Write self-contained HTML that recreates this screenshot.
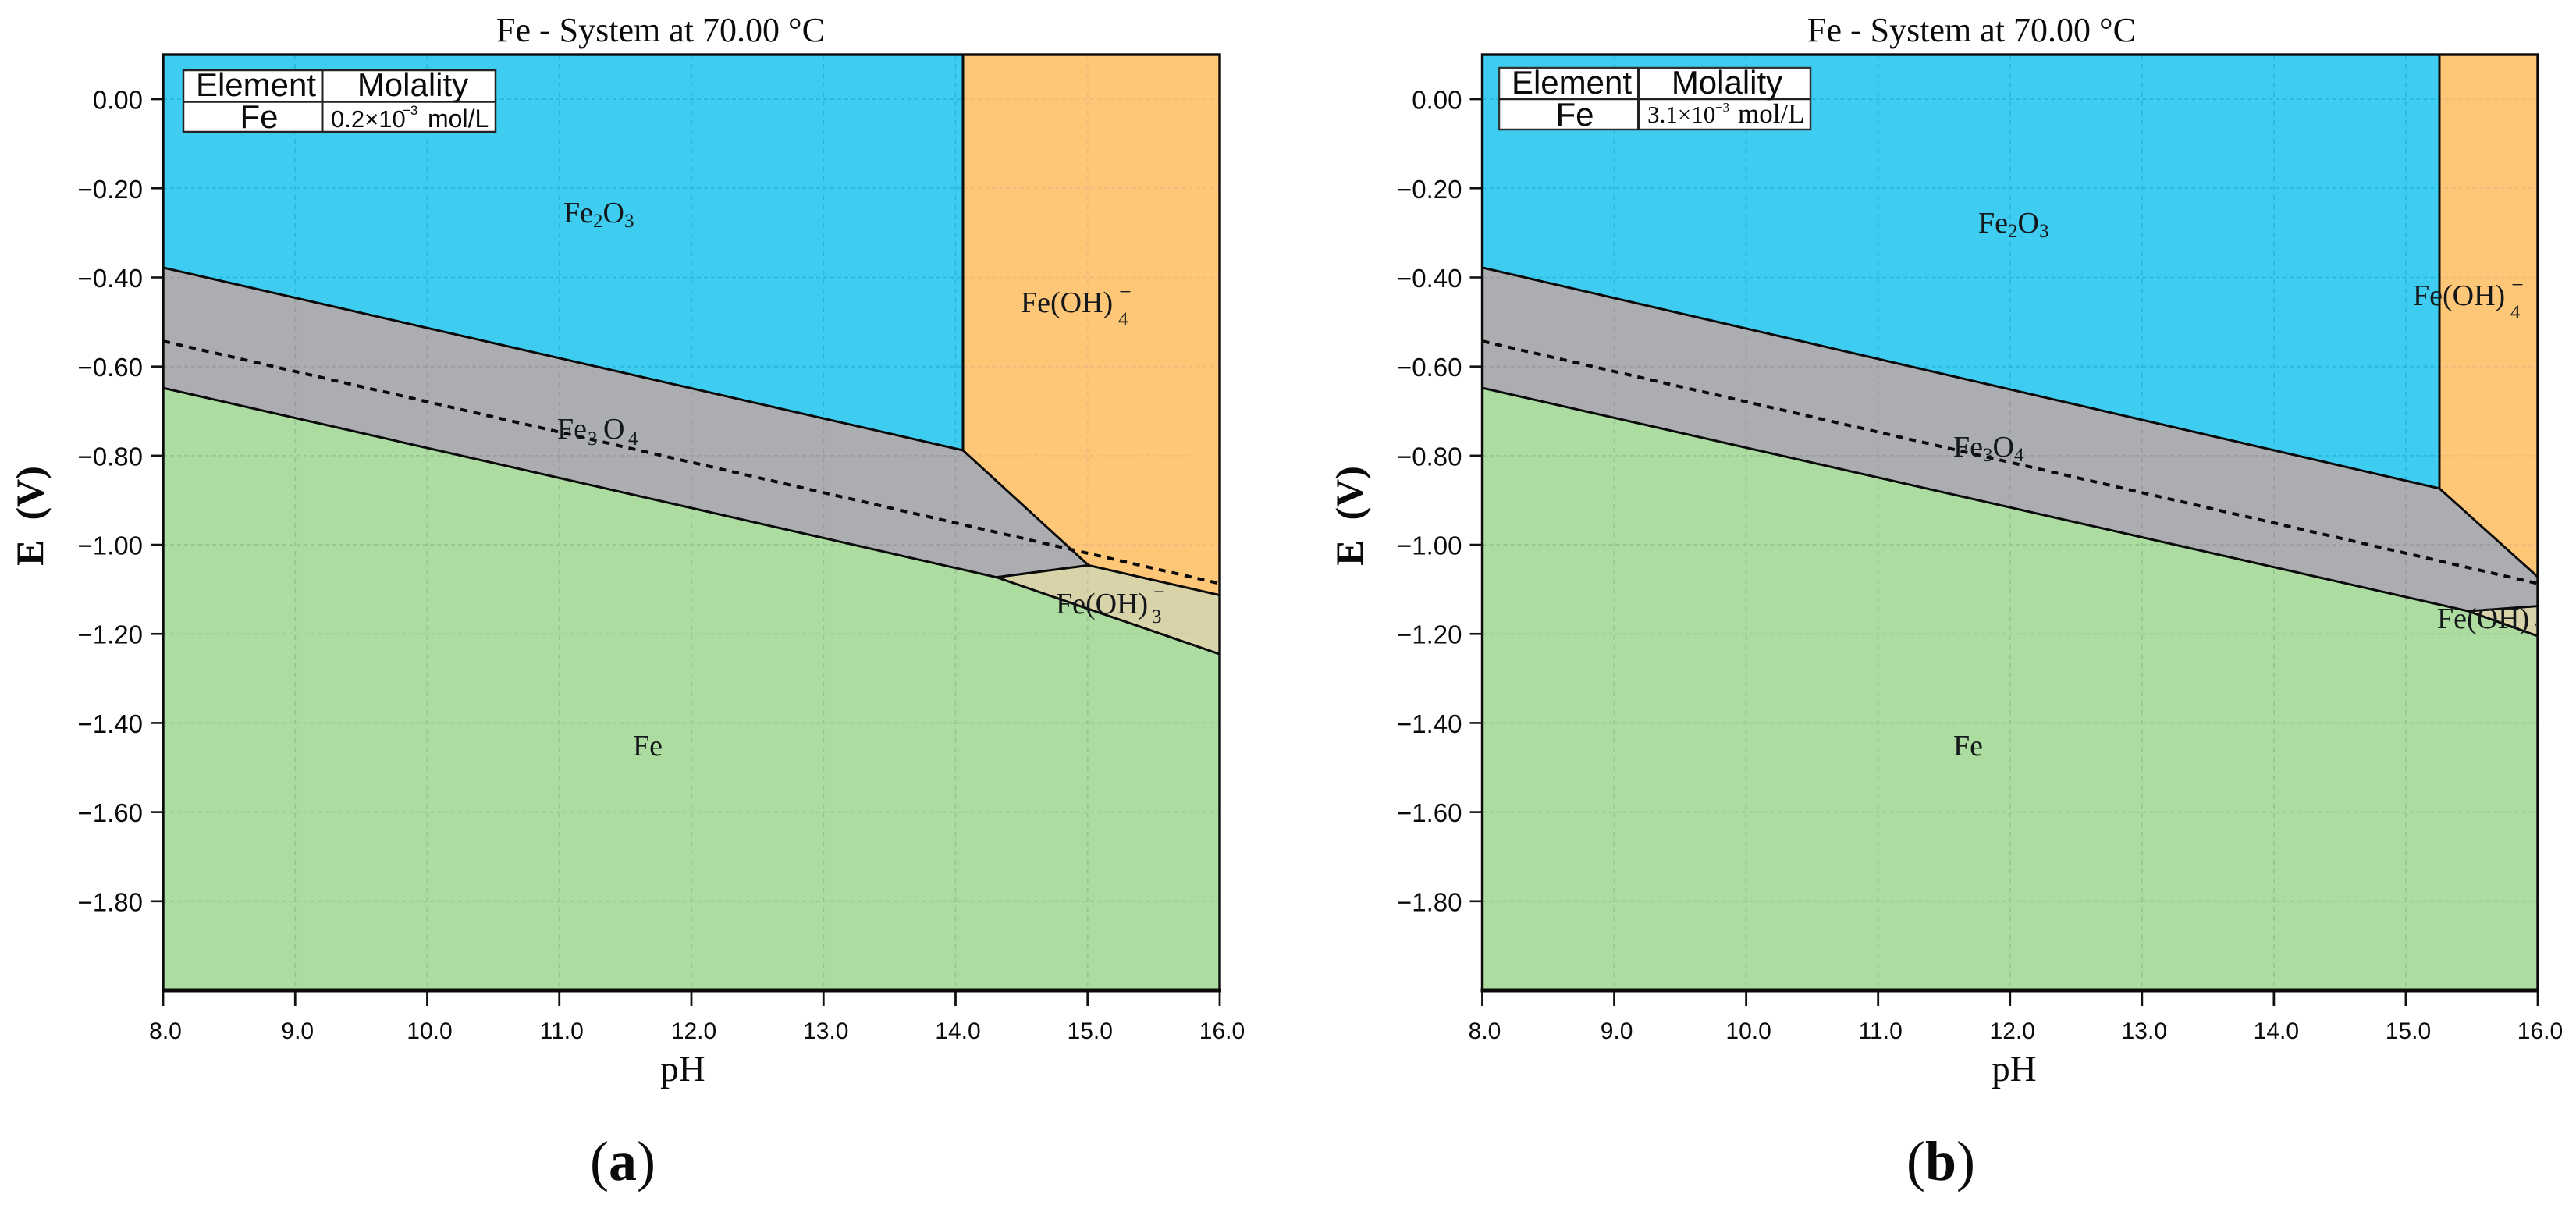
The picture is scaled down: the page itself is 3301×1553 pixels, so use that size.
<!DOCTYPE html>
<html lang="en">
<head>
<meta charset="utf-8">
<title>Fe - System Pourbaix diagrams at 70.00 °C</title>
<style>
html,body{margin:0;padding:0;background:#fff;}
svg{display:block;}
.serif{font-family:"Liberation Serif",serif;fill:#0a0a0a;}
.sans{font-family:"Liberation Sans",sans-serif;fill:#0a0a0a;}
.region-label{font-family:"Liberation Serif",serif;font-size:38px;fill:#14181a;}
.region-sub{font-family:"Liberation Serif",serif;font-size:25px;fill:#14181a;}
.title{font-family:"Liberation Serif",serif;font-size:44px;fill:#0a0a0a;}
.axis-title{font-family:"Liberation Serif",serif;font-size:47px;fill:#0a0a0a;}
.e-title{font-family:"Liberation Serif",serif;font-size:50px;font-weight:bold;fill:#0a0a0a;white-space:pre;}
.caption{font-family:"Liberation Serif",serif;font-size:72px;fill:#0a0a0a;}
.tbl{font-family:"Liberation Sans",sans-serif;font-size:42px;fill:#0a0a0a;text-anchor:middle;}
</style>
</head>
<body>
<svg id="fig" xmlns="http://www.w3.org/2000/svg" width="3301" height="1553" viewBox="0 0 3301 1553">
  <rect x="0" y="0" width="3301" height="1553" fill="#ffffff"/>
  <defs id="defs">
    <clipPath id="clip-b-plot"><rect x="1899" y="70" width="1353" height="1199"/></clipPath>
  </defs>

  <!-- Panel (a) -->
  <g id="panel-a">
    <g id="a-regions"></g>
    <g id="a-grid"></g>
    <g id="a-lines"></g>
    <g id="a-axes"></g>

    <text class="title" x="636" y="53">Fe - System at 70.00 °C</text>
    <text class="axis-title" x="875" y="1385" text-anchor="middle">pH</text>
    <text class="e-title" transform="translate(55 661) rotate(-90)" text-anchor="middle" xml:space="preserve">E  (V)</text>

    <g>
      <rect x="235" y="90" width="400" height="79" fill="#fff" stroke="#222" stroke-width="2.5"/>
      <line x1="235" y1="130.5" x2="635" y2="130.5" stroke="#222" stroke-width="2.5"/>
      <line x1="413" y1="90" x2="413" y2="169" stroke="#222" stroke-width="3"/>
      <text class="tbl" x="328" y="123">Element</text>
      <text class="tbl" x="529" y="123">Molality</text>
      <text class="tbl" x="332" y="164">Fe</text>
      <text class="sans" font-size="31" y="163"><tspan x="424">0.2×10</tspan><tspan x="516" y="147" font-size="17">−3</tspan><tspan x="548" y="163" font-size="32">mol/L</tspan></text>
    </g>

    <text class="region-label" x="722" y="285">Fe<tspan class="region-sub" dy="6">2</tspan><tspan dy="-6">O</tspan><tspan class="region-sub" dy="6">3</tspan></text>
    <text class="region-label" x="1308" y="400">Fe(OH)</text>
    <text class="region-sub" x="1433" y="417">4</text>
    <text class="region-sub" x="1434" y="383" style="font-size:28px">−</text>
    <text class="region-label" x="714" y="562">Fe</text>
    <text class="region-sub" x="753" y="570">3</text>
    <text class="region-label" x="773" y="562">O</text>
    <text class="region-sub" x="805" y="570">4</text>
    <text class="region-label" x="1353" y="786">Fe(OH)</text>
    <text class="region-sub" x="1476" y="798">3</text>
    <text class="region-sub" x="1478" y="766" style="font-size:24px">−</text>
    <text class="region-label" x="811" y="968">Fe</text>
    <text class="caption" x="756" y="1512">(<tspan font-weight="bold">a</tspan>)</text>
  </g>

  <!-- Panel (b) -->
  <g id="panel-b">
    <g id="b-regions"></g>
    <g id="b-grid"></g>
    <g id="b-lines"></g>
    <g id="b-axes"></g>

    <text class="title" x="2316" y="53">Fe - System at 70.00 °C</text>
    <text class="axis-title" x="2581" y="1385" text-anchor="middle">pH</text>
    <text class="e-title" transform="translate(1746 661) rotate(-90)" text-anchor="middle" xml:space="preserve">E  (V)</text>

    <g>
      <rect x="1921" y="87" width="399" height="79" fill="#fff" stroke="#333" stroke-width="2.5"/>
      <line x1="1921" y1="127" x2="2320" y2="127" stroke="#222" stroke-width="2.5"/>
      <line x1="2099.5" y1="87" x2="2099.5" y2="166" stroke="#222" stroke-width="3"/>
      <text class="tbl" x="2014" y="120">Element</text>
      <text class="tbl" x="2213" y="120">Molality</text>
      <text class="tbl" x="2018" y="161">Fe</text>
      <text class="serif" font-size="31" y="157"><tspan x="2111">3.1×10</tspan><tspan x="2198" y="143" font-size="17">−3</tspan><tspan x="2227" y="157" font-size="35">mol/L</tspan></text>
    </g>

    <text class="region-label" x="2535" y="298">Fe<tspan class="region-sub" dy="6">2</tspan><tspan dy="-6">O</tspan><tspan class="region-sub" dy="6">3</tspan></text>
    <text class="region-label" x="3092" y="391">Fe(OH)</text>
    <text class="region-sub" x="3217" y="408">4</text>
    <text class="region-sub" x="3218" y="374" style="font-size:28px">−</text>
    <text class="region-label" x="2503" y="585">Fe<tspan class="region-sub" dy="6">3</tspan><tspan dy="-6">O</tspan><tspan class="region-sub" dy="6">4</tspan></text>
    <text class="region-label" x="3123" y="805">Fe(OH)</text>
    <text class="region-sub" x="3247" y="815" clip-path="url(#clip-b-plot)">3</text>
    <text class="region-label" x="2503" y="968">Fe</text>
    <text class="caption" x="2443" y="1512">(<tspan font-weight="bold">b</tspan>)</text>
  </g>
</svg>

<script>
// ---- Shared axis data ----
const phTicks = [8, 9, 10, 11, 12, 13, 14, 15, 16];
const phTickLabels = ['8.0', '9.0', '10.0', '11.0', '12.0', '13.0', '14.0', '15.0', '16.0'];
const eTicks = [0, -0.2, -0.4, -0.6, -0.8, -1.0, -1.2, -1.4, -1.6, -1.8];
const eTickLabels = ['0.00', '−0.20', '−0.40', '−0.60', '−0.80', '−1.00', '−1.20', '−1.40', '−1.60', '−1.80'];
const phRange = [8, 16];
const eRange = [-2.0, 0.1];

// ---- Panel (a) stability regions: [pH, E] vertices ----
const aFe2O3 = [[8, 0.1], [14.056, 0.1], [14.056, -0.788], [8, -0.378]];
const aFeOH4 = [[14.056, 0.1], [16, 0.1], [16, -1.113], [15.007, -1.046], [14.056, -0.788]];
const aFe3O4 = [[8, -0.378], [14.056, -0.788], [15.007, -1.046], [14.31, -1.073], [8, -0.648]];
const aFeOH3 = [[14.31, -1.073], [15.007, -1.046], [16, -1.113], [16, -1.2455]];
const aFe = [[8, -0.648], [14.31, -1.073], [16, -1.2455], [16, -2.0], [8, -2.0]];
const aWater = [[8, -0.543], [16, -1.087]];

// ---- Panel (b) stability regions: [pH, E] vertices ----
const bFe2O3 = [[8, 0.1], [15.255, 0.1], [15.255, -0.8737], [8, -0.378]];
const bFeOH4 = [[15.255, 0.1], [16, 0.1], [16, -1.072], [15.255, -0.8737]];
const bFe3O4 = [[8, -0.378], [15.255, -0.8737], [16, -1.072], [16, -1.1375], [15.474, -1.149], [8, -0.648]];
const bFeOH3 = [[15.474, -1.149], [16, -1.1375], [16, -1.205]];
const bFe = [[8, -0.648], [15.474, -1.149], [16, -1.205], [16, -2.0], [8, -2.0]];
const bWater = [[8, -0.543], [16, -1.087]];

const SVGNS = 'http://www.w3.org/2000/svg';
const defs = document.getElementById('defs');

function make(tag, attrs) {
  const el = document.createElementNS(SVGNS, tag);
  for (const k in attrs) el.setAttribute(k, attrs[k]);
  return el;
}

function drawPanel(id, left, right, regions, water) {
  const top = 70, bottom = 1269;
  const xs = v => left + (v - phRange[0]) / (phRange[1] - phRange[0]) * (right - left);
  const ys = v => top + (eRange[1] - v) / (eRange[1] - eRange[0]) * (bottom - top);
  const pts = arr => arr.map(p => xs(p[0]).toFixed(1) + ',' + ys(p[1]).toFixed(1)).join(' ');

  const regionG = document.getElementById(id + '-regions');
  const gridG = document.getElementById(id + '-grid');
  const lineG = document.getElementById(id + '-lines');
  const axesG = document.getElementById(id + '-axes');

  regions.forEach(r => {
    const poly = make('polygon', {points: pts(r.verts), fill: r.fill});
    
    
    regionG.appendChild(poly);

    const clipId = 'clip-' + id + '-' + r.name;
    const clip = make('clipPath', {id: clipId});
    
    
    clip.appendChild(make('polygon', {points: pts(r.verts)}));
    defs.appendChild(clip);

    const g = make('g', {'clip-path': 'url(#' + clipId + ')', stroke: r.grid, 'stroke-width': 1.8, fill: 'none'});
    
    
    phTicks.slice(1, -1).forEach(v => {
      const gl = make('line', {x1: xs(v), x2: xs(v), y1: top, y2: bottom, 'stroke-dasharray': '6 6'});
      
      
      g.appendChild(gl);
    });
    eTicks.forEach(v => {
      const gl = make('line', {x1: left, x2: right, y1: ys(v), y2: ys(v), 'stroke-dasharray': '5 4'});
      
      
      g.appendChild(gl);
    });
    gridG.appendChild(g);
  });

  regions.forEach(r => {
    const outline = make('polygon', {points: pts(r.verts), fill: 'none', stroke: '#0b0b0b', 'stroke-width': 2.8, 'stroke-linejoin': 'round'});
    
    
    lineG.appendChild(outline);
  });

  const wl = make('polyline', {points: pts(water), fill: 'none', stroke: '#0b0b0b', 'stroke-width': 4, 'stroke-dasharray': '9 8'});
  
  
  lineG.appendChild(wl);

  // y ticks and labels
  eTicks.forEach((v, i) => {
    const t = make('line', {x1: left - 16, x2: left, y1: ys(v), y2: ys(v), stroke: '#111', 'stroke-width': 2.6});
    
    
    axesG.appendChild(t);
    const lab = make('text', {x: left - 26, y: ys(v) + 12.5, 'text-anchor': 'end', 'font-size': 33, class: 'sans'});
    
    
    lab.textContent = eTickLabels[i];
    axesG.appendChild(lab);
  });

  // x ticks and labels
  phTicks.forEach((v, i) => {
    const t = make('line', {x1: xs(v), x2: xs(v), y1: bottom, y2: bottom + 20, stroke: '#111', 'stroke-width': 2.8});
    
    
    axesG.appendChild(t);
    const lab = make('text', {x: xs(v) + 3, y: bottom + 62, 'text-anchor': 'middle', 'font-size': 30, class: 'sans'});
    
    
    lab.textContent = phTickLabels[i];
    axesG.appendChild(lab);
  });

  // plot frame
  const frame = make('rect', {x: left, y: top, width: right - left, height: bottom - top, fill: 'none', stroke: '#0b0b0b', 'stroke-width': 3.4});
  
  
  axesG.appendChild(frame);
  const base = make('line', {x1: left - 2, x2: right + 2, y1: bottom, y2: bottom, stroke: '#0b0b0b', 'stroke-width': 5});
  
  
  axesG.appendChild(base);
}

const BLUE = '#3ecdf1', ORANGE = '#fec677', GREY = '#abadb0', GREEN = '#acdca0', TAN = '#d9d3aa';
const GBLUE = '#25b9da', GORANGE = '#f2b87c', GGREY = '#9c9d9f', GGREEN = '#97c592', GTAN = '#c8c3a0';

drawPanel('a', 209, 1563, [
  {name: 'fe2o3', verts: aFe2O3, fill: BLUE, grid: GBLUE},
  {name: 'feoh4', verts: aFeOH4, fill: ORANGE, grid: GORANGE},
  {name: 'fe3o4', verts: aFe3O4, fill: GREY, grid: GGREY},
  {name: 'feoh3', verts: aFeOH3, fill: TAN, grid: GTAN},
  {name: 'fe', verts: aFe, fill: GREEN, grid: GGREEN}
], aWater);

drawPanel('b', 1899.5, 3252, [
  {name: 'fe2o3', verts: bFe2O3, fill: BLUE, grid: GBLUE},
  {name: 'feoh4', verts: bFeOH4, fill: ORANGE, grid: GORANGE},
  {name: 'fe3o4', verts: bFe3O4, fill: GREY, grid: GGREY},
  {name: 'feoh3', verts: bFeOH3, fill: TAN, grid: GTAN},
  {name: 'fe', verts: bFe, fill: GREEN, grid: GGREEN}
], bWater);
</script>
</body>
</html>
